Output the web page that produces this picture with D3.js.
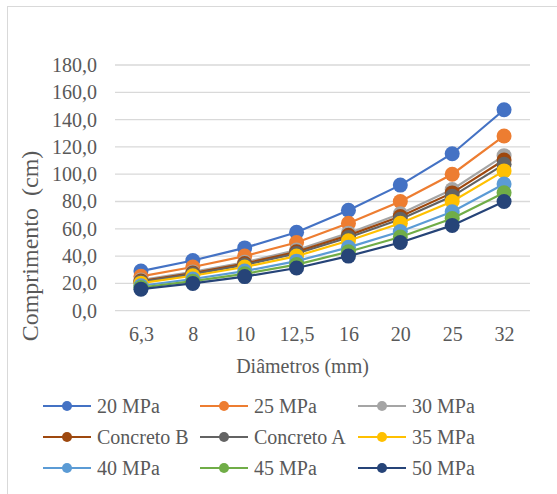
<!DOCTYPE html>
<html>
<head>
<meta charset="utf-8">
<script src="https://cdn.jsdelivr.net/npm/d3@7"></script>
<style>
  html, body { margin: 0; padding: 0; background: #fff; }
  svg { display: block; }
</style>
</head>
<body>
<svg id="chart" width="557" height="494"></svg>
<script>
// Bar diameters (mm)
const diametros = ["6,3", "8", "10", "12,5", "16", "20", "25", "32"];

// Anchorage length (cm) per concrete class
const mpa20 = [29.0, 36.8, 46.0, 57.5, 73.6, 92.0, 115.0, 147.2];
const mpa25 = [25.2, 32.0, 40.0, 50.0, 64.0, 80.0, 100.0, 128.0];
const mpa30 = [22.4, 28.4, 35.5, 44.4, 56.8, 71.0, 88.8, 113.6];
const concretoB = [21.7, 27.6, 34.5, 43.1, 55.2, 69.0, 86.3, 110.4];
const concretoA = [21.1, 26.8, 33.5, 41.9, 53.6, 67.0, 83.8, 107.2];
const mpa35 = [20.2, 25.6, 32.0, 40.0, 51.2, 64.0, 80.0, 102.4];
const mpa40 = [18.3, 23.2, 29.0, 36.3, 46.4, 58.0, 72.5, 92.8];
const mpa45 = [17.0, 21.6, 27.0, 33.8, 43.2, 54.0, 67.5, 86.4];
const mpa50 = [15.8, 20.0, 25.0, 31.3, 40.0, 50.0, 62.5, 80.0];

const seriesNames = ["20 MPa", "25 MPa", "30 MPa", "Concreto B", "Concreto A", "35 MPa", "40 MPa", "45 MPa", "50 MPa"];
const seriesValues = [mpa20, mpa25, mpa30, concretoB, concretoA, mpa35, mpa40, mpa45, mpa50];
const seriesColors = ["#4472C4", "#ED7D31", "#A5A5A5", "#9E480E", "#636363", "#FFC000", "#5B9BD5", "#70AD47", "#264478"];

const yTicks = [0, 20, 40, 60, 80, 100, 120, 140, 160, 180];

const SERIF = '"Liberation Serif", "Times New Roman", "DejaVu Serif", serif';
const TEXT_COLOR = "#595959";

const svg = d3.select("#chart");

// chart area frame
svg.append("rect")
  .attr("x", 7.5).attr("y", 6.5)
  .attr("width", 700).attr("height", 700)
  .attr("fill", "none").attr("stroke", "#D9D9D9").attr("stroke-width", 1);

const plot = { left: 115, right: 530, top: 65, bottom: 310.7 };

const x = d3.scalePoint().domain(diametros).range([plot.left, plot.right]).padding(0.5);
const y = d3.scaleLinear().domain([0, 180]).range([plot.bottom, plot.top]);

const ptBR = d3.formatLocale({ decimal: ",", thousands: ".", grouping: [3], currency: ["R$", ""] });
const fmt = ptBR.format(".1f");

function styleText(sel, size) {
  sel.style("font-family", SERIF)
    .style("font-size", size + "px")
    .style("fill", TEXT_COLOR);
}

// gridlines
svg.append("g")
  .selectAll("line")
  .data(yTicks)
  .join("line")
  .attr("x1", plot.left).attr("x2", plot.right)
  .attr("y1", d => y(d)).attr("y2", d => y(d))
  .attr("stroke", "#D9D9D9").attr("stroke-width", 1.3);

// y axis labels
const yAxis = svg.append("g")
  .attr("transform", `translate(${plot.left},0)`)
  .call(d3.axisLeft(y).tickValues(yTicks).tickFormat(fmt).tickSize(0).tickPadding(18));
yAxis.select(".domain").remove();
styleText(yAxis.selectAll("text"), 20);

// x axis labels
const xAxis = svg.append("g")
  .attr("transform", `translate(0,${plot.bottom})`)
  .call(d3.axisBottom(x).tickSize(0).tickPadding(16));
xAxis.select(".domain").remove();
styleText(xAxis.selectAll("text"), 20);

// axis titles
styleText(svg.append("text")
  .attr("x", 302.5).attr("y", 373)
  .attr("text-anchor", "middle")
  .text("Diâmetros (mm)"), 20);

styleText(svg.append("text")
  .attr("transform", "translate(38,246) rotate(-90)")
  .attr("text-anchor", "middle")
  .style("white-space", "pre")
  .text("Comprimento  (cm)"), 24);

// series lines and markers
const line = d3.line().x((d, i) => x(diametros[i])).y(d => y(d));

seriesValues.forEach((vals, s) => {
  const g = svg.append("g");
  g.append("path")
    .datum(vals)
    .attr("d", line)
    .attr("fill", "none")
    .attr("stroke", seriesColors[s])
    .attr("stroke-width", 2.2);
  g.selectAll("circle")
    .data(vals)
    .join("circle")
    .attr("cx", (d, i) => x(diametros[i]))
    .attr("cy", d => y(d))
    .attr("r", 7.5)
    .attr("fill", seriesColors[s]);
});

// legend (3 columns, row-major)
const legend = svg.append("g");
const colX = [43, 200, 358];
const rowY = [406, 437, 468];
seriesNames.forEach((name, i) => {
  const cx = colX[i % 3], cy = rowY[Math.floor(i / 3)];
  const item = legend.append("g").attr("transform", `translate(${cx},${cy})`);
  item.append("line")
    .attr("x1", 0).attr("x2", 48).attr("y1", 0).attr("y2", 0)
    .attr("stroke", seriesColors[i]).attr("stroke-width", 2.2);
  item.append("circle")
    .attr("cx", 24).attr("cy", 0).attr("r", 5)
    .attr("fill", seriesColors[i]);
  styleText(item.append("text")
    .attr("x", 54).attr("y", 0).attr("dy", "0.34em")
    .text(name), 20);
});
</script>
</body>
</html>
